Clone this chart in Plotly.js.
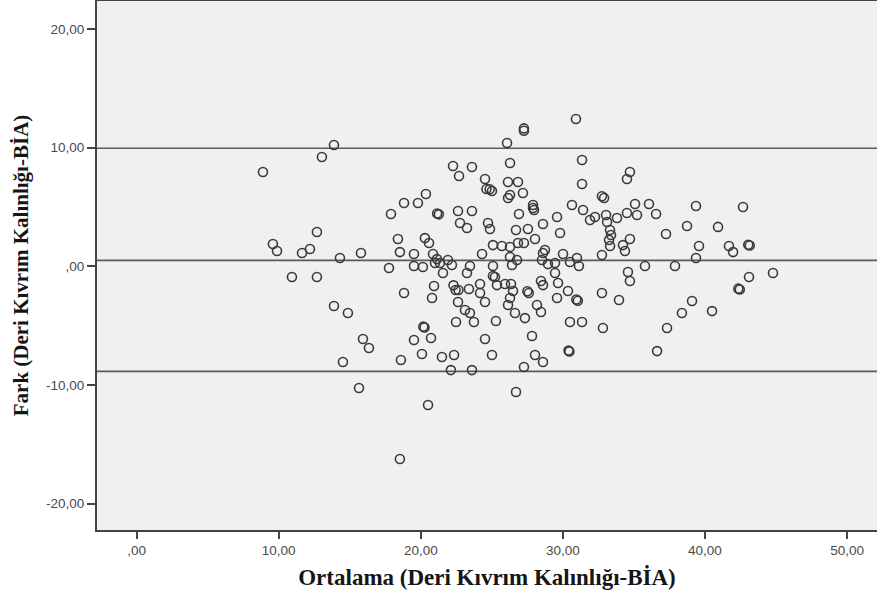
<!DOCTYPE html>
<html>
<head>
<meta charset="utf-8">
<script src="https://cdn.plot.ly/plotly-3.0.1.min.js"></script>
<style>html,body{margin:0;padding:0;background:#fff;}#chart{width:877px;height:600px;}</style>
</head>
<body>
<div id="chart"></div>
<script>
// Ortalama (mean of the two methods)
const ortalama = [
8.89,13.04,13.89,9.59,9.88,11.64,12.20,12.69,14.31,15.79,17.76,17.90,10.93,12.69,13.89,14.87,15.93,16.35,14.52,15.65,
18.39,18.82,19.80,20.36,21.15,21.27,20.29,20.58,18.53,19.52,20.86,21.14,21.35,21.00,19.52,20.15,21.91,18.82,20.79,20.93,
20.18,20.26,19.52,20.72,20.08,18.60,21.49,20.51,18.53,21.56,
22.27,22.69,23.60,24.52,24.62,24.85,25.01,26.07,26.28,26.14,26.84,26.28,26.14,27.19,27.90,27.90,27.97,27.26,27.26,26.91,
22.62,23.60,22.76,23.25,24.73,24.87,26.70,27.54,28.04,25.08,25.71,26.28,26.84,27.26,24.31,26.28,26.77,28.74,28.60,28.60,
23.46,25.08,26.42,22.19,28.53,28.95,
30.92,31.35,31.35,34.72,34.51,32.75,32.90,30.64,31.42,35.08,36.06,36.56,34.51,35.22,29.59,29.80,31.91,32.26,33.04,33.11,
33.81,33.32,33.39,33.25,33.32,34.72,37.26,34.23,34.37,32.75,30.01,30.99,30.50,29.45,35.78,37.89,31.13,
23.25,22.30,22.45,22.65,22.62,24.17,24.17,24.52,23.39,23.11,23.46,22.48,23.74,25.22,25.36,25.93,26.35,26.49,26.28,26.14,
26.63,27.33,25.29,27.50,27.60,28.46,28.60,29.45,29.66,28.18,28.46,30.36,30.95,31.05,29.59,30.50,31.35,32.75,33.95,34.58,
34.72,32.82,37.33,24.52,27.83,22.34,25.01,28.04,28.60,30.40,30.46,36.63,22.12,23.60,27.26,26.70,25.08,
39.37,42.68,38.74,40.92,39.58,41.69,41.98,43.05,43.15,39.37,44.79,43.10,42.35,42.45,39.09,38.38,40.50
];
// Fark (difference of the two methods)
const fark = [
7.94,9.21,10.22,1.88,1.29,1.12,1.46,2.89,0.70,1.12,-0.14,4.41,-0.90,-0.90,-3.34,-3.93,-6.12,-6.88,-8.06,-10.25,
2.30,5.33,5.33,6.09,4.45,4.38,2.38,1.96,1.20,1.04,1.04,0.61,0.28,0.28,0.03,-0.06,0.53,-2.25,-2.67,-1.66,
-5.08,-5.15,-6.21,-6.04,-7.39,-7.89,-7.64,-11.68,-16.23,-0.56,
8.45,7.61,8.37,7.35,6.51,6.49,6.34,10.39,8.70,7.10,7.10,6.01,5.75,6.18,5.16,4.91,4.74,11.62,11.42,4.41,
4.66,4.66,3.65,3.23,3.65,3.14,3.06,3.14,2.30,1.79,1.71,1.63,1.96,1.96,1.04,0.78,0.53,1.37,1.12,3.56,
0.03,0.03,0.11,0.11,0.53,0.19,
12.41,8.96,6.93,7.94,7.35,5.90,5.75,5.16,4.74,5.25,5.25,4.41,4.49,4.32,4.15,2.81,3.90,4.15,4.32,3.73,
4.07,3.06,2.64,2.22,1.71,2.30,2.72,1.79,1.29,0.95,1.04,0.70,0.36,0.28,0.03,0.03,0.03,
-0.56,-1.60,-2.00,-2.00,-3.01,-1.49,-2.25,-3.01,-1.91,-3.68,-3.93,-4.69,-4.69,-0.90,-1.58,-1.49,-1.49,-2.08,-2.67,-3.26,
-3.93,-4.36,-4.61,-2.10,-2.25,-1.24,-1.58,-0.56,-1.41,-3.26,-3.85,-2.08,-2.80,-2.90,-2.67,-4.69,-4.69,-2.25,-2.84,-0.48,
-1.24,-5.20,-5.20,-6.12,-5.87,-7.47,-7.47,-7.47,-8.06,-7.10,-7.18,-7.14,-8.74,-8.74,-8.48,-10.59,-0.82,
5.08,5.00,3.40,3.32,1.71,1.71,1.20,1.82,1.76,0.70,-0.56,-0.90,-1.88,-1.95,-2.92,-3.93,-3.77
];
// Reference lines: upper limit, mean difference, lower limit
const refLines = [9.95, 0.5, -8.85];
const xTickVals = [0, 10, 20, 30, 40, 50];
const xTickText = [",00", "10,00", "20,00", "30,00", "40,00", "50,00"];
const yTickVals = [-20, -10, 0, 10, 20];
const yTickText = ["-20,00", "-10,00", ",00", "10,00", "20,00"];

const trace = {
  x: ortalama, y: fark, type: 'scatter', mode: 'markers',
  marker: {symbol: 'circle-open', size: 9, color: '#3a3a3a', line: {width: 1.6, color: '#3a3a3a'}},
  hoverinfo: 'x+y'
};

const shapes = refLines.map(v => ({
  type: 'line', xref: 'paper', x0: 0, x1: 1, yref: 'y', y0: v, y1: v,
  line: {color: '#5a5a5a', width: 1.6}, layer: 'below'
}));

const tickFont = {family: 'Liberation Sans, Arial, sans-serif', size: 13.5, color: '#4a4a4a'};
const titleFamily = 'Liberation Serif, Times New Roman, serif';

const layout = {
  width: 877, height: 600,
  margin: {l: 97, r: 0, t: 1, b: 70},
  paper_bgcolor: '#ffffff', plot_bgcolor: '#f0f0f0',
  showlegend: false,
  shapes: shapes,
  xaxis: {
    range: [-2.79, 52.11], tickvals: xTickVals, ticktext: xTickText,
    ticks: 'outside', ticklen: 7, tickwidth: 2, tickcolor: '#444',
    showline: true, linecolor: '#444', linewidth: 2, mirror: true,
    showgrid: false, zeroline: false, tickfont: tickFont,
    title: {text: '<b>Ortalama (Deri Kıvrım Kalınlığı-BİA)</b>', font: {family: titleFamily, size: 23, color: '#151515'}, standoff: 12}
  },
  yaxis: {
    range: [-22.21, 22.35], tickvals: yTickVals, ticktext: yTickText,
    ticks: 'outside', ticklen: 8, tickwidth: 2, tickcolor: '#444',
    showline: true, linecolor: '#444', linewidth: 2, mirror: true,
    showgrid: false, zeroline: false, tickfont: tickFont,
    title: {text: '<b>Fark (Deri Kıvrım Kalınlığı-BİA)</b>', font: {family: titleFamily, size: 21, color: '#151515'}, standoff: 12}
  }
};

Plotly.newPlot('chart', [trace], layout, {displayModeBar: false, staticPlot: true});
</script>
</body>
</html>
